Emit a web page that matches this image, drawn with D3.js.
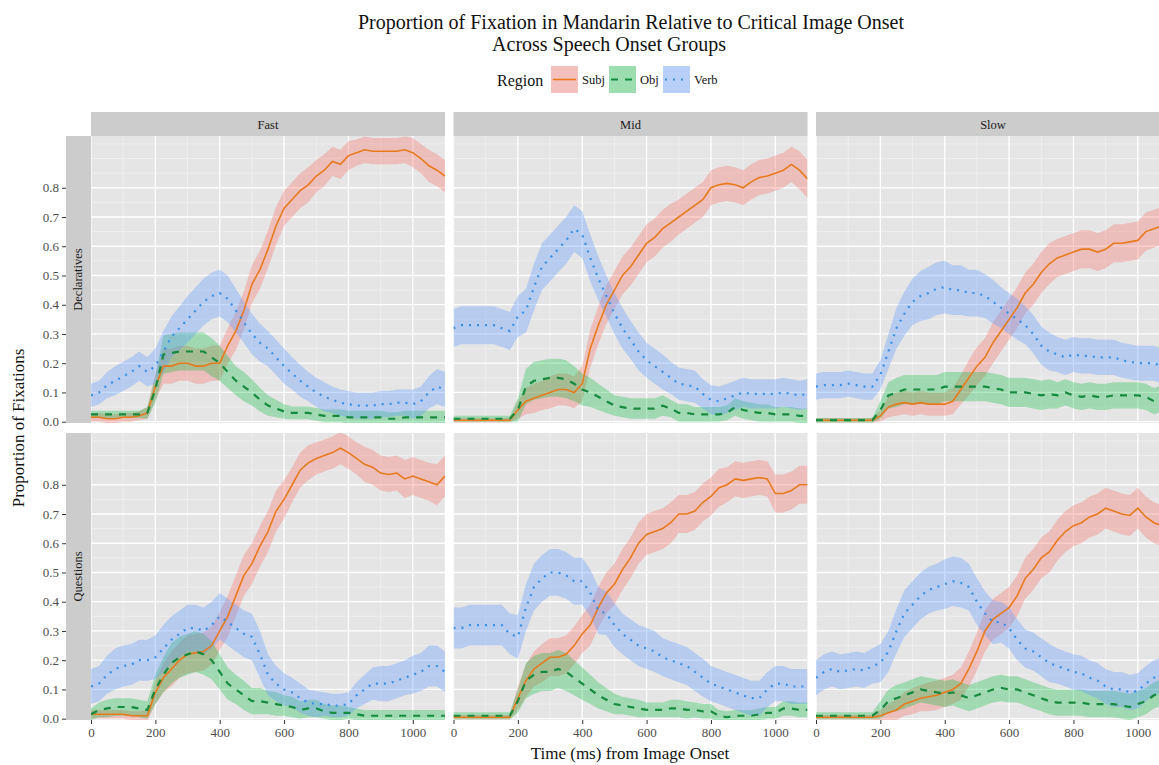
<!DOCTYPE html>
<html>
<head>
<meta charset="utf-8">
<script src="https://cdn.jsdelivr.net/npm/d3@7"></script>
<style>
  body { margin: 0; background: #fff; }
  text { font-family: "Liberation Serif", "DejaVu Serif", serif; }
</style>
</head>
<body>
<script>
// facets and groups
var speeds = ["Fast", "Mid", "Slow"];
var sentenceTypes = ["Declaratives", "Questions"];
var regions = ["Subj", "Obj", "Verb"];
var xTicks = [0, 200, 400, 600, 800, 1000];
var yTicks = [0, 0.1, 0.2, 0.3, 0.4, 0.5, 0.6, 0.7, 0.8];

// sample times (ms from image onset)
var times = [0, 25, 50, 75, 100, 125, 150, 175, 200, 225,
  250, 275, 300, 325, 350, 375, 400, 425, 450, 475,
  500, 525, 550, 575, 600, 625, 650, 675, 700, 725,
  750, 775, 800, 825, 850, 875, 900, 925, 950, 975,
  1000, 1025, 1050, 1075, 1100];

// ---- Fast / Declaratives ----
var fastDeclSubj = [0.015, 0.015, 0.01, 0.01, 0.015, 0.015, 0.02, 0.03, 0.12, 0.19,
  0.19, 0.20, 0.20, 0.19, 0.19, 0.20, 0.20, 0.26, 0.31, 0.38,
  0.47, 0.52, 0.59, 0.67, 0.73, 0.76, 0.79, 0.81, 0.84, 0.86,
  0.89, 0.88, 0.91, 0.92, 0.93, 0.925, 0.925, 0.925, 0.925, 0.93,
  0.92, 0.90, 0.875, 0.86, 0.84];
var fastDeclSubjSe = [0.015, 0.015, 0.015, 0.015, 0.015, 0.015, 0.015, 0.02, 0.045, 0.06,
  0.06, 0.06, 0.06, 0.06, 0.06, 0.06, 0.06, 0.06, 0.065, 0.065,
  0.065, 0.065, 0.065, 0.065, 0.06, 0.06, 0.06, 0.06, 0.055, 0.055,
  0.05, 0.05, 0.05, 0.045, 0.045, 0.045, 0.045, 0.045, 0.045, 0.045,
  0.05, 0.05, 0.055, 0.055, 0.055];
var fastDeclObj = [0.025, 0.025, 0.025, 0.025, 0.025, 0.025, 0.025, 0.03, 0.11, 0.23,
  0.235, 0.24, 0.24, 0.24, 0.24, 0.22, 0.20, 0.17, 0.14, 0.12,
  0.10, 0.075, 0.055, 0.045, 0.035, 0.03, 0.03, 0.03, 0.025, 0.02,
  0.02, 0.02, 0.015, 0.015, 0.015, 0.015, 0.015, 0.01, 0.01, 0.015,
  0.015, 0.015, 0.015, 0.015, 0.015];
var fastDeclObjSe = [0.012, 0.012, 0.012, 0.012, 0.012, 0.012, 0.012, 0.02, 0.045, 0.065,
  0.065, 0.065, 0.065, 0.065, 0.065, 0.065, 0.06, 0.055, 0.05, 0.05,
  0.045, 0.04, 0.035, 0.03, 0.025, 0.022, 0.022, 0.022, 0.022, 0.022,
  0.022, 0.022, 0.022, 0.022, 0.022, 0.022, 0.022, 0.022, 0.022, 0.022,
  0.022, 0.022, 0.022, 0.022, 0.022];
var fastDeclVerb = [0.09, 0.10, 0.125, 0.14, 0.155, 0.17, 0.19, 0.17, 0.19, 0.24,
  0.29, 0.32, 0.35, 0.38, 0.41, 0.43, 0.44, 0.42, 0.38, 0.34,
  0.30, 0.27, 0.25, 0.22, 0.19, 0.165, 0.14, 0.12, 0.10, 0.085,
  0.075, 0.065, 0.06, 0.055, 0.055, 0.055, 0.06, 0.06, 0.065, 0.065,
  0.06, 0.07, 0.10, 0.12, 0.11];
var fastDeclVerbSe = [0.04, 0.04, 0.045, 0.05, 0.05, 0.05, 0.05, 0.05, 0.06, 0.07,
  0.07, 0.075, 0.08, 0.08, 0.08, 0.08, 0.08, 0.08, 0.075, 0.07,
  0.07, 0.065, 0.06, 0.06, 0.06, 0.055, 0.055, 0.05, 0.05, 0.05,
  0.045, 0.045, 0.045, 0.045, 0.045, 0.045, 0.045, 0.045, 0.045, 0.045,
  0.05, 0.05, 0.055, 0.06, 0.06];

// ---- Fast / Questions ----
var fastQuesSubj = [0.015, 0.015, 0.015, 0.015, 0.015, 0.01, 0.01, 0.01, 0.09, 0.14,
  0.17, 0.20, 0.22, 0.225, 0.23, 0.25, 0.30, 0.35, 0.42, 0.49,
  0.53, 0.59, 0.64, 0.71, 0.75, 0.80, 0.85, 0.875, 0.89, 0.90,
  0.91, 0.925, 0.91, 0.89, 0.87, 0.86, 0.84, 0.835, 0.84, 0.82,
  0.83, 0.82, 0.81, 0.80, 0.83];
var fastQuesSubjSe = [0.015, 0.015, 0.015, 0.015, 0.015, 0.015, 0.015, 0.02, 0.04, 0.05,
  0.06, 0.06, 0.065, 0.065, 0.065, 0.065, 0.065, 0.07, 0.07, 0.07,
  0.07, 0.07, 0.07, 0.07, 0.065, 0.06, 0.06, 0.06, 0.055, 0.055,
  0.055, 0.055, 0.055, 0.055, 0.06, 0.06, 0.06, 0.06, 0.06, 0.065,
  0.065, 0.065, 0.065, 0.07, 0.07];
var fastQuesObj = [0.015, 0.03, 0.035, 0.04, 0.04, 0.04, 0.035, 0.03, 0.10, 0.15,
  0.19, 0.21, 0.22, 0.23, 0.22, 0.20, 0.16, 0.12, 0.10, 0.08,
  0.06, 0.06, 0.055, 0.05, 0.045, 0.04, 0.03, 0.035, 0.035, 0.025,
  0.02, 0.02, 0.02, 0.015, 0.01, 0.01, 0.01, 0.01, 0.01, 0.01,
  0.01, 0.01, 0.01, 0.01, 0.01];
var fastQuesObjSe = [0.02, 0.025, 0.03, 0.03, 0.03, 0.03, 0.03, 0.03, 0.05, 0.06,
  0.07, 0.07, 0.07, 0.07, 0.07, 0.065, 0.06, 0.055, 0.05, 0.05,
  0.045, 0.045, 0.04, 0.04, 0.035, 0.035, 0.03, 0.03, 0.03, 0.025,
  0.025, 0.025, 0.02, 0.02, 0.02, 0.02, 0.02, 0.02, 0.02, 0.02,
  0.02, 0.02, 0.02, 0.02, 0.02];
var fastQuesVerb = [0.11, 0.12, 0.15, 0.17, 0.18, 0.185, 0.20, 0.20, 0.21, 0.24,
  0.27, 0.29, 0.31, 0.31, 0.30, 0.32, 0.35, 0.33, 0.31, 0.29,
  0.28, 0.22, 0.15, 0.12, 0.10, 0.09, 0.07, 0.055, 0.05, 0.05,
  0.045, 0.045, 0.05, 0.08, 0.10, 0.12, 0.12, 0.12, 0.13, 0.14,
  0.15, 0.16, 0.18, 0.18, 0.16];
var fastQuesVerbSe = [0.06, 0.06, 0.065, 0.07, 0.07, 0.07, 0.07, 0.07, 0.075, 0.08,
  0.08, 0.08, 0.08, 0.08, 0.08, 0.08, 0.08, 0.08, 0.08, 0.08,
  0.08, 0.08, 0.07, 0.06, 0.055, 0.05, 0.05, 0.045, 0.045, 0.04,
  0.04, 0.04, 0.04, 0.045, 0.05, 0.055, 0.06, 0.06, 0.06, 0.06,
  0.065, 0.065, 0.07, 0.07, 0.07];

// ---- Mid / Declaratives ----
var midDeclSubj = [0.005, 0.005, 0.005, 0.005, 0.005, 0.005, 0.005, 0.005, 0.04, 0.07,
  0.08, 0.09, 0.10, 0.11, 0.11, 0.10, 0.13, 0.25, 0.33, 0.40,
  0.45, 0.50, 0.53, 0.57, 0.61, 0.63, 0.66, 0.68, 0.70, 0.72,
  0.74, 0.76, 0.80, 0.81, 0.815, 0.81, 0.80, 0.82, 0.835, 0.84,
  0.85, 0.86, 0.88, 0.86, 0.83];
var midDeclSubjSe = [0.008, 0.008, 0.008, 0.008, 0.008, 0.008, 0.008, 0.008, 0.03, 0.045,
  0.05, 0.05, 0.055, 0.055, 0.055, 0.055, 0.06, 0.065, 0.065, 0.065,
  0.065, 0.065, 0.065, 0.065, 0.065, 0.065, 0.065, 0.065, 0.06, 0.06,
  0.06, 0.06, 0.06, 0.06, 0.06, 0.06, 0.06, 0.06, 0.06, 0.06,
  0.06, 0.06, 0.06, 0.065, 0.065];
var midDeclObj = [0.01, 0.01, 0.01, 0.01, 0.01, 0.01, 0.01, 0.01, 0.04, 0.12,
  0.14, 0.145, 0.15, 0.15, 0.145, 0.13, 0.11, 0.10, 0.085, 0.07,
  0.055, 0.05, 0.045, 0.045, 0.045, 0.045, 0.055, 0.045, 0.03, 0.03,
  0.025, 0.025, 0.025, 0.025, 0.03, 0.05, 0.04, 0.035, 0.03, 0.03,
  0.025, 0.025, 0.025, 0.02, 0.02];
var midDeclObjSe = [0.01, 0.01, 0.01, 0.01, 0.01, 0.01, 0.01, 0.01, 0.04, 0.06,
  0.065, 0.065, 0.065, 0.065, 0.065, 0.06, 0.055, 0.05, 0.045, 0.04,
  0.035, 0.035, 0.035, 0.035, 0.035, 0.035, 0.035, 0.03, 0.03, 0.03,
  0.025, 0.025, 0.025, 0.025, 0.025, 0.03, 0.03, 0.03, 0.03, 0.03,
  0.025, 0.025, 0.025, 0.025, 0.025];
var midDeclVerb = [0.32, 0.33, 0.33, 0.33, 0.33, 0.33, 0.32, 0.31, 0.36, 0.38,
  0.46, 0.53, 0.56, 0.59, 0.62, 0.66, 0.64, 0.56, 0.49, 0.43,
  0.37, 0.32, 0.28, 0.24, 0.21, 0.19, 0.17, 0.15, 0.13, 0.125,
  0.12, 0.095, 0.075, 0.07, 0.08, 0.09, 0.10, 0.095, 0.095, 0.095,
  0.095, 0.10, 0.095, 0.09, 0.095];
var midDeclVerbSe = [0.065, 0.065, 0.065, 0.065, 0.065, 0.065, 0.065, 0.065, 0.07, 0.075,
  0.08, 0.08, 0.08, 0.08, 0.08, 0.08, 0.08, 0.08, 0.075, 0.07,
  0.07, 0.07, 0.065, 0.065, 0.06, 0.06, 0.06, 0.055, 0.055, 0.055,
  0.055, 0.05, 0.05, 0.05, 0.05, 0.05, 0.05, 0.05, 0.05, 0.05,
  0.05, 0.05, 0.05, 0.05, 0.05];

// ---- Mid / Questions ----
var midQuesSubj = [0.005, 0.005, 0.005, 0.005, 0.005, 0.005, 0.005, 0.005, 0.07, 0.13,
  0.17, 0.19, 0.21, 0.21, 0.22, 0.25, 0.29, 0.32, 0.38, 0.43,
  0.46, 0.51, 0.55, 0.60, 0.63, 0.64, 0.65, 0.67, 0.70, 0.70,
  0.71, 0.74, 0.76, 0.79, 0.80, 0.82, 0.815, 0.82, 0.825, 0.82,
  0.77, 0.77, 0.78, 0.80, 0.80];
var midQuesSubjSe = [0.008, 0.008, 0.008, 0.008, 0.008, 0.008, 0.008, 0.008, 0.04, 0.055,
  0.06, 0.065, 0.065, 0.065, 0.065, 0.065, 0.065, 0.07, 0.07, 0.07,
  0.07, 0.07, 0.07, 0.07, 0.07, 0.07, 0.07, 0.07, 0.065, 0.065,
  0.065, 0.065, 0.065, 0.065, 0.06, 0.06, 0.06, 0.06, 0.06, 0.06,
  0.065, 0.065, 0.065, 0.065, 0.065];
var midQuesObj = [0.01, 0.01, 0.01, 0.01, 0.01, 0.01, 0.01, 0.01, 0.06, 0.13,
  0.15, 0.16, 0.16, 0.17, 0.16, 0.14, 0.12, 0.10, 0.08, 0.065,
  0.05, 0.045, 0.04, 0.035, 0.03, 0.03, 0.03, 0.035, 0.035, 0.03,
  0.03, 0.025, 0.025, 0.01, 0.005, 0.01, 0.01, 0.01, 0.015, 0.02,
  0.02, 0.035, 0.035, 0.03, 0.03];
var midQuesObjSe = [0.012, 0.012, 0.012, 0.012, 0.012, 0.012, 0.012, 0.012, 0.04, 0.06,
  0.065, 0.065, 0.065, 0.065, 0.065, 0.06, 0.055, 0.05, 0.045, 0.04,
  0.035, 0.03, 0.03, 0.03, 0.025, 0.025, 0.025, 0.03, 0.03, 0.03,
  0.025, 0.025, 0.025, 0.02, 0.02, 0.02, 0.02, 0.02, 0.02, 0.02,
  0.02, 0.025, 0.025, 0.025, 0.025];
var midQuesVerb = [0.31, 0.31, 0.32, 0.32, 0.32, 0.32, 0.32, 0.29, 0.28, 0.38,
  0.45, 0.48, 0.50, 0.50, 0.49, 0.47, 0.47, 0.43, 0.37, 0.36,
  0.32, 0.29, 0.27, 0.25, 0.24, 0.23, 0.21, 0.20, 0.19, 0.18,
  0.16, 0.14, 0.12, 0.11, 0.10, 0.09, 0.08, 0.07, 0.07, 0.10,
  0.12, 0.12, 0.11, 0.11, 0.11];
var midQuesVerbSe = [0.07, 0.07, 0.07, 0.07, 0.07, 0.07, 0.07, 0.07, 0.075, 0.08,
  0.08, 0.08, 0.08, 0.08, 0.08, 0.08, 0.08, 0.08, 0.08, 0.075,
  0.075, 0.07, 0.07, 0.07, 0.07, 0.07, 0.065, 0.065, 0.065, 0.065,
  0.065, 0.065, 0.06, 0.06, 0.06, 0.06, 0.06, 0.06, 0.06, 0.06,
  0.06, 0.06, 0.06, 0.06, 0.06];

// ---- Slow / Declaratives ----
var slowDeclSubj = [0.005, 0.005, 0.005, 0.005, 0.005, 0.005, 0.005, 0.005, 0.02, 0.05,
  0.06, 0.065, 0.06, 0.065, 0.06, 0.06, 0.06, 0.07, 0.11, 0.15,
  0.19, 0.22, 0.27, 0.31, 0.35, 0.39, 0.44, 0.47, 0.51, 0.54,
  0.56, 0.57, 0.58, 0.59, 0.59, 0.58, 0.59, 0.61, 0.61, 0.615,
  0.62, 0.65, 0.66, 0.67, 0.68];
var slowDeclSubjSe = [0.008, 0.008, 0.008, 0.008, 0.008, 0.008, 0.008, 0.008, 0.02, 0.035,
  0.04, 0.04, 0.04, 0.04, 0.04, 0.04, 0.04, 0.045, 0.05, 0.06,
  0.065, 0.065, 0.07, 0.07, 0.07, 0.07, 0.07, 0.07, 0.07, 0.07,
  0.065, 0.065, 0.065, 0.065, 0.065, 0.065, 0.065, 0.065, 0.065, 0.065,
  0.065, 0.065, 0.065, 0.065, 0.065];
var slowDeclObj = [0.005, 0.005, 0.005, 0.005, 0.005, 0.005, 0.005, 0.005, 0.04, 0.09,
  0.10, 0.11, 0.11, 0.11, 0.11, 0.11, 0.12, 0.12, 0.12, 0.12,
  0.12, 0.12, 0.115, 0.11, 0.10, 0.10, 0.10, 0.095, 0.09, 0.095,
  0.09, 0.10, 0.09, 0.085, 0.09, 0.085, 0.085, 0.09, 0.09, 0.09,
  0.09, 0.085, 0.07, 0.08, 0.08];
var slowDeclObjSe = [0.008, 0.008, 0.008, 0.008, 0.008, 0.008, 0.008, 0.008, 0.03, 0.045,
  0.05, 0.05, 0.05, 0.05, 0.05, 0.05, 0.05, 0.05, 0.05, 0.05,
  0.05, 0.05, 0.05, 0.05, 0.05, 0.05, 0.05, 0.05, 0.05, 0.05,
  0.045, 0.045, 0.045, 0.045, 0.045, 0.045, 0.045, 0.045, 0.045, 0.045,
  0.045, 0.045, 0.045, 0.045, 0.045];
var slowDeclVerb = [0.12, 0.125, 0.125, 0.125, 0.13, 0.125, 0.12, 0.12, 0.16, 0.24,
  0.32, 0.37, 0.41, 0.43, 0.44, 0.455, 0.46, 0.45, 0.45, 0.44,
  0.44, 0.43, 0.41, 0.39, 0.37, 0.35, 0.33, 0.30, 0.26, 0.24,
  0.23, 0.22, 0.23, 0.225, 0.225, 0.22, 0.22, 0.22, 0.21, 0.205,
  0.20, 0.20, 0.20, 0.19, 0.19];
var slowDeclVerbSe = [0.045, 0.045, 0.045, 0.045, 0.045, 0.045, 0.045, 0.045, 0.05, 0.06,
  0.07, 0.075, 0.08, 0.085, 0.09, 0.09, 0.09, 0.085, 0.085, 0.08,
  0.08, 0.075, 0.075, 0.07, 0.07, 0.07, 0.065, 0.065, 0.065, 0.065,
  0.06, 0.06, 0.06, 0.06, 0.06, 0.06, 0.06, 0.06, 0.06, 0.06,
  0.06, 0.06, 0.06, 0.06, 0.06];

// ---- Slow / Questions ----
var slowQuesSubj = [0.005, 0.005, 0.005, 0.005, 0.005, 0.005, 0.005, 0.005, 0.01, 0.02,
  0.03, 0.05, 0.06, 0.07, 0.075, 0.08, 0.09, 0.10, 0.12, 0.17,
  0.23, 0.30, 0.34, 0.36, 0.38, 0.42, 0.48, 0.51, 0.55, 0.57,
  0.61, 0.64, 0.66, 0.67, 0.69, 0.70, 0.72, 0.71, 0.70, 0.695,
  0.72, 0.69, 0.67, 0.66, 0.655];
var slowQuesSubjSe = [0.008, 0.008, 0.008, 0.008, 0.008, 0.008, 0.008, 0.008, 0.02, 0.03,
  0.035, 0.04, 0.045, 0.045, 0.05, 0.05, 0.05, 0.05, 0.055, 0.06,
  0.065, 0.07, 0.07, 0.07, 0.07, 0.07, 0.07, 0.07, 0.07, 0.07,
  0.07, 0.07, 0.07, 0.07, 0.07, 0.07, 0.07, 0.07, 0.07, 0.07,
  0.07, 0.07, 0.07, 0.07, 0.07];
var slowQuesObj = [0.01, 0.01, 0.01, 0.01, 0.01, 0.01, 0.01, 0.01, 0.03, 0.06,
  0.07, 0.08, 0.09, 0.10, 0.095, 0.09, 0.085, 0.09, 0.08, 0.07,
  0.08, 0.09, 0.10, 0.105, 0.10, 0.10, 0.09, 0.08, 0.07, 0.06,
  0.055, 0.055, 0.055, 0.055, 0.05, 0.05, 0.05, 0.05, 0.045, 0.04,
  0.05, 0.06, 0.08, 0.09, 0.09];
var slowQuesObjSe = [0.012, 0.012, 0.012, 0.012, 0.012, 0.012, 0.012, 0.012, 0.03, 0.04,
  0.045, 0.045, 0.045, 0.045, 0.045, 0.045, 0.045, 0.045, 0.045, 0.045,
  0.045, 0.045, 0.045, 0.045, 0.045, 0.045, 0.045, 0.045, 0.045, 0.045,
  0.045, 0.045, 0.045, 0.045, 0.045, 0.045, 0.045, 0.045, 0.045, 0.045,
  0.045, 0.045, 0.045, 0.045, 0.045];
var slowQuesVerb = [0.14, 0.16, 0.17, 0.16, 0.165, 0.17, 0.165, 0.18, 0.19, 0.23,
  0.30, 0.36, 0.39, 0.42, 0.44, 0.45, 0.46, 0.47, 0.465, 0.45,
  0.40, 0.36, 0.33, 0.33, 0.31, 0.27, 0.24, 0.23, 0.21, 0.19,
  0.18, 0.17, 0.16, 0.155, 0.14, 0.13, 0.11, 0.10, 0.10, 0.09,
  0.095, 0.12, 0.14, 0.15, 0.15];
var slowQuesVerbSe = [0.06, 0.06, 0.06, 0.06, 0.06, 0.06, 0.06, 0.06, 0.065, 0.07,
  0.075, 0.08, 0.08, 0.08, 0.08, 0.08, 0.085, 0.085, 0.085, 0.08,
  0.08, 0.075, 0.075, 0.07, 0.07, 0.07, 0.065, 0.065, 0.065, 0.065,
  0.06, 0.06, 0.06, 0.06, 0.06, 0.06, 0.06, 0.06, 0.06, 0.06,
  0.06, 0.06, 0.06, 0.06, 0.06];

// lookup: speed -> sentence type -> region -> [mean, halfwidth]
var panels = {
  Fast: {
    Declaratives: { Subj: [fastDeclSubj, fastDeclSubjSe], Obj: [fastDeclObj, fastDeclObjSe], Verb: [fastDeclVerb, fastDeclVerbSe] },
    Questions: { Subj: [fastQuesSubj, fastQuesSubjSe], Obj: [fastQuesObj, fastQuesObjSe], Verb: [fastQuesVerb, fastQuesVerbSe] }
  },
  Mid: {
    Declaratives: { Subj: [midDeclSubj, midDeclSubjSe], Obj: [midDeclObj, midDeclObjSe], Verb: [midDeclVerb, midDeclVerbSe] },
    Questions: { Subj: [midQuesSubj, midQuesSubjSe], Obj: [midQuesObj, midQuesObjSe], Verb: [midQuesVerb, midQuesVerbSe] }
  },
  Slow: {
    Declaratives: { Subj: [slowDeclSubj, slowDeclSubjSe], Obj: [slowDeclObj, slowDeclObjSe], Verb: [slowDeclVerb, slowDeclVerbSe] },
    Questions: { Subj: [slowQuesSubj, slowQuesSubjSe], Obj: [slowQuesObj, slowQuesObjSe], Verb: [slowQuesVerb, slowQuesVerbSe] }
  }
};

//styles per region
var ribbonFill = { Subj: "#F8766D", Obj: "#00BA38", Verb: "#619CFF" };
var ribbonAlpha = { Subj: 0.35, Obj: 0.3, Verb: 0.35 };
var lineColor = { Subj: "#E87A1C", Obj: "#168A3E", Verb: "#3A8FE6" };
var lineDash = { Subj: null, Obj: "7,7", Verb: "2,6" };
var lineWidth = { Subj: 1.6, Obj: 2.2, Verb: 2.2 };

var width = 1159, height = 765;
var panelW = 354, panelH = 287, colStep = 362.5;
var left0 = 91, rowTop = [136, 433];

var svg = d3.select("body").append("svg").attr("width", width).attr("height", height);

var x = d3.scaleLinear().domain([0, 1100]).range([0, panelW]);
var y = d3.scaleLinear().domain([-0.0045, 0.977]).range([panelH, 0]);

svg.append("defs").append("clipPath").attr("id", "pclip")
  .append("rect").attr("width", panelW).attr("height", panelH);

// title
svg.append("text").attr("x", 631).attr("y", 29).attr("text-anchor", "middle")
  .style("font-size", "20px").attr("fill", "#111")
  .text("Proportion of Fixation in Mandarin Relative to Critical Image Onset");
svg.append("text").attr("x", 609).attr("y", 51).attr("text-anchor", "middle")
  .style("font-size", "20px").attr("fill", "#111")
  .text("Across Speech Onset Groups");

// legend
var leg = svg.append("g");
leg.append("text").attr("x", 497).attr("y", 86).style("font-size", "16px").attr("fill", "#111").text("Region");
var keyX = { Subj: 551, Obj: 609, Verb: 663 };
regions.forEach(function(r) {
  var g = leg.append("g").attr("transform", "translate(" + keyX[r] + ",66)");
  g.append("rect").attr("width", 27).attr("height", 27).attr("fill", "#F2F2F2");
  g.append("rect").attr("width", 27).attr("height", 27).attr("fill", ribbonFill[r]).attr("fill-opacity", ribbonAlpha[r] + 0.05);
  g.append("line").attr("x1", 2).attr("x2", 25).attr("y1", 13.5).attr("y2", 13.5)
    .attr("stroke", lineColor[r]).attr("stroke-width", lineWidth[r])
    .attr("stroke-dasharray", lineDash[r]);
  g.append("text").attr("x", 31).attr("y", 18).style("font-size", "12.5px").attr("fill", "#111").text(r);
});

var area = d3.area()
  .x(function(d) { return x(d.t); })
  .y0(function(d) { return y(d.m - d.s); })
  .y1(function(d) { return y(d.m + d.s); });
var line = d3.line()
  .x(function(d) { return x(d.t); })
  .y(function(d) { return y(d.m); });

var yMinor = [0.05, 0.15, 0.25, 0.35, 0.45, 0.55, 0.65, 0.75, 0.85, 0.9, 0.95];
var xMinor = [100, 300, 500, 700, 900, 1100];

speeds.forEach(function(sp, ci) {
  var px = left0 + ci * colStep;
  // top strip
  svg.append("rect").attr("x", px).attr("y", 112).attr("width", panelW).attr("height", 24).attr("fill", "#CCCCCC");
  svg.append("text").attr("x", px + panelW / 2).attr("y", 128.5).attr("text-anchor", "middle")
    .style("font-size", "12.5px").attr("fill", "#1A1A1A").text(sp);

  sentenceTypes.forEach(function(st, ri) {
    var py = rowTop[ri];
    var g = svg.append("g").attr("transform", "translate(" + px + "," + py + ")");
    g.append("rect").attr("width", panelW).attr("height", panelH).attr("fill", "#E5E5E5");

    var grid = g.append("g").attr("clip-path", "url(#pclip)");
    grid.selectAll(".ymin").data(yMinor).enter().append("line")
      .attr("x1", 0).attr("x2", panelW).attr("y1", y).attr("y2", y)
      .attr("stroke", "#F2F2F2").attr("stroke-width", 0.7);
    grid.selectAll(".xmin").data(xMinor).enter().append("line")
      .attr("y1", 0).attr("y2", panelH).attr("x1", x).attr("x2", x)
      .attr("stroke", "#F2F2F2").attr("stroke-width", 0.7);
    grid.selectAll(".ymaj").data(yTicks).enter().append("line")
      .attr("x1", 0).attr("x2", panelW).attr("y1", y).attr("y2", y)
      .attr("stroke", "#fff").attr("stroke-width", 1.3);
    grid.selectAll(".xmaj").data(xTicks).enter().append("line")
      .attr("y1", 0).attr("y2", panelH).attr("x1", x).attr("x2", x)
      .attr("stroke", "#fff").attr("stroke-width", 1.3);

    var marks = g.append("g").attr("clip-path", "url(#pclip)");
    var series = regions.map(function(r) {
      var ms = panels[sp][st][r];
      return { r: r, pts: times.map(function(t, i) { return { t: t, m: ms[0][i], s: ms[1][i] }; }) };
    });
    series.forEach(function(s) {
      marks.append("path").attr("d", area(s.pts))
        .attr("fill", ribbonFill[s.r]).attr("fill-opacity", ribbonAlpha[s.r]);
    });
    series.forEach(function(s) {
      marks.append("path").attr("d", line(s.pts)).attr("fill", "none")
        .attr("stroke", lineColor[s.r]).attr("stroke-width", lineWidth[s.r])
        .attr("stroke-dasharray", lineDash[s.r]);
    });

    // row strip + y axis in first column
    if (ci === 0) {
      svg.append("rect").attr("x", 66).attr("y", py).attr("width", 25).attr("height", panelH).attr("fill", "#CCCCCC");
      svg.append("text").attr("transform", "translate(82," + (py + panelH / 2) + ") rotate(-90)")
        .attr("text-anchor", "middle").style("font-size", "12.5px").attr("fill", "#1A1A1A").text(st);
      var ya = svg.append("g").attr("transform", "translate(66," + py + ")")
        .call(d3.axisLeft(y).tickValues(yTicks).tickFormat(d3.format(".1f")).tickSize(4).tickPadding(3));
      ya.select(".domain").remove();
      ya.selectAll("line").attr("stroke", "#333");
      ya.selectAll("text").style("font-size", "13px").style("font-family", "Liberation Serif").attr("fill", "#4D4D4D");
    }
    if (ri === 1) {
      var xa = svg.append("g").attr("transform", "translate(" + px + "," + (py + panelH) + ")")
        .call(d3.axisBottom(x).tickValues(xTicks).tickFormat(d3.format("d")).tickSize(4).tickPadding(4));
      xa.select(".domain").remove();
      xa.selectAll("line").attr("stroke", "#333");
      xa.selectAll("text").style("font-size", "13px").style("font-family", "Liberation Serif").attr("fill", "#4D4D4D");
    }
  });
});

// axis titles
svg.append("text").attr("x", 630).attr("y", 759).attr("text-anchor", "middle")
  .style("font-size", "17px").attr("fill", "#111").text("Time (ms) from Image Onset");
svg.append("text").attr("transform", "translate(24,428) rotate(-90)").attr("text-anchor", "middle")
  .style("font-size", "17px").attr("fill", "#111").text("Proportion of Fixations");
</script>
</body>
</html>
